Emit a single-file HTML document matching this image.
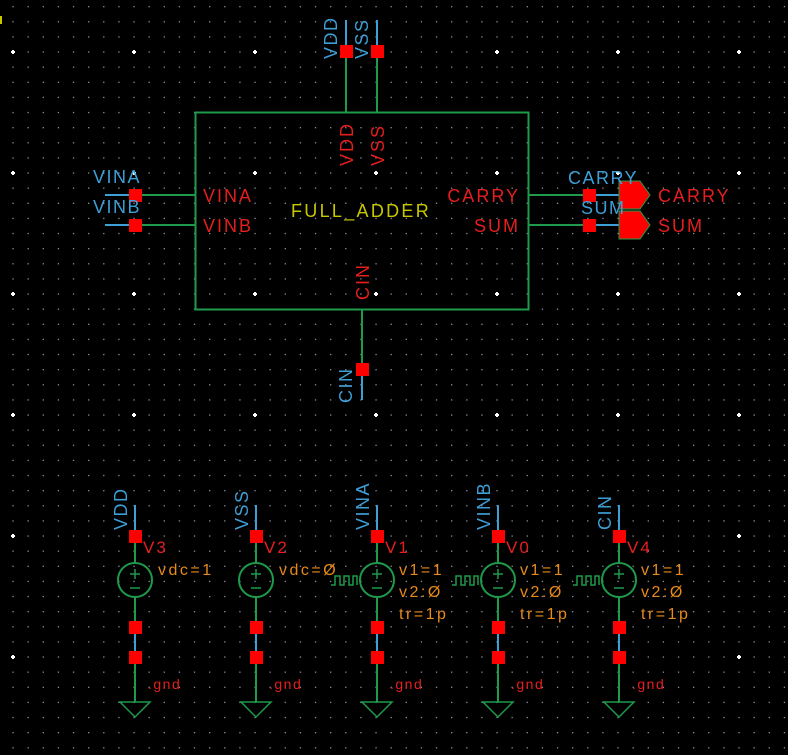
<!DOCTYPE html>
<html><head><meta charset="utf-8"><style>
html,body{margin:0;padding:0;background:#000;}
svg{display:block;}
text{font-family:"Liberation Sans",sans-serif;}
.b{fill:#3d9fd6;font-size:18px;letter-spacing:1.5px;}
.r{fill:#e61e1e;font-size:18px;letter-spacing:2px;}
.o{fill:#e88a1a;font-size:16px;letter-spacing:2.5px;}
.g{fill:#e61e1e;font-size:14px;letter-spacing:1.5px;}
</style></head><body>
<svg id="s" width="788" height="755" viewBox="0 0 788 755" xmlns="http://www.w3.org/2000/svg">
<rect width="788" height="755" fill="#000"/>
<g id="grid"></g>
<rect x="0" y="16" width="2" height="8" fill="#c8c800"/>
<g stroke="#1f9a4a" stroke-width="2" fill="none">
<rect x="195.5" y="112.5" width="333" height="197"/>
<line x1="346" y1="52" x2="346" y2="112"/>
<line x1="377" y1="52" x2="377" y2="112"/>
<line x1="135" y1="195" x2="195" y2="195"/>
<line x1="135" y1="225" x2="195" y2="225"/>
<line x1="528" y1="195" x2="589" y2="195"/>
<line x1="528" y1="225" x2="589" y2="225"/>
<line x1="362" y1="309" x2="362" y2="369"/>
</g>
<g stroke="#3d9fd6" stroke-width="2">
<line x1="346" y1="20" x2="346" y2="46"/>
<line x1="377" y1="20" x2="377" y2="46"/>
<line x1="105" y1="195" x2="130" y2="195"/>
<line x1="105" y1="225" x2="130" y2="225"/>
<line x1="594" y1="195" x2="620" y2="195"/>
<line x1="594" y1="225" x2="620" y2="225"/>
<line x1="362" y1="374" x2="362" y2="400"/>
</g>
<g fill="#ff0000">
<rect x="340" y="45" width="13" height="13"/>
<rect x="371" y="45" width="13" height="13"/>
<rect x="129" y="189" width="13" height="13"/>
<rect x="129" y="219" width="13" height="13"/>
<rect x="583" y="189" width="13" height="13"/>
<rect x="583" y="219" width="13" height="13"/>
<rect x="356" y="363" width="13" height="13"/>
</g>
<polygon points="619,181 640,181 650,195 640,209 619,209" fill="#ff0000" stroke="#1f9a4a" stroke-width="1"/>
<polygon points="619,211 640,211 650,225 640,239 619,239" fill="#ff0000" stroke="#1f9a4a" stroke-width="1"/>
<text class="b" transform="translate(337,59) rotate(-90)">VDD</text>
<text class="b" transform="translate(368,59) rotate(-90)">VSS</text>
<text class="r" transform="translate(353,166) rotate(-90)">VDD</text>
<text class="r" transform="translate(384,166) rotate(-90)">VSS</text>
<text class="r" transform="translate(369,300) rotate(-90)">CIN</text>
<text class="b" transform="translate(352,403) rotate(-90)">CIN</text>
<text class="b" x="93" y="183">VINA</text>
<text class="b" x="93" y="213">VINB</text>
<text class="r" x="203" y="202">VINA</text>
<text class="r" x="203" y="232">VINB</text>
<text x="291" y="217" style="fill:#c8c800;font-size:18px;letter-spacing:2.3px">FULL_ADDER</text>
<text class="r" x="520" y="202" text-anchor="end">CARRY</text>
<text class="r" x="520" y="232" text-anchor="end">SUM</text>
<text class="b" x="568" y="184">CARRY</text>
<text class="b" x="581" y="214">SUM</text>
<text class="r" x="658" y="202">CARRY</text>
<text class="r" x="658" y="232">SUM</text>
<g id="srcs"></g>
</svg>
<script>
var ns="http://www.w3.org/2000/svg";
function el(t,a,p){var e=document.createElementNS(ns,t);for(var k in a)e.setAttribute(k,a[k]);(p||document.getElementById('srcs')).appendChild(e);return e;}
var g=document.getElementById('grid');
var sp=121/8;
for(var i=-1;i<60;i++){for(var j=-1;j<60;j++){var x=13+i*sp,y=52+(j-3)*sp;if(x<0||x>788||y<0||y>755)continue;
var big=(i%8==0)&&((j-3)%8==0);
if(big){el('rect',{x:x-2,y:y-1,width:4,height:2,fill:'#fff'},g);el('rect',{x:x-1,y:y-2,width:2,height:4,fill:'#fff'},g);}
else el('rect',{x:x-0.6,y:y-0.6,width:1.3,height:1.3,fill:'#8890a8'},g);}}
var xs=[135,256,377,498,619],nets=['VDD','VSS','VINA','VINB','CIN'],nm=['V3','V2','V1','V0','V4'];
for(var k=0;k<5;k++){var x=xs[k];
el('line',{x1:x,y1:505,x2:x,y2:531,stroke:'#3d9fd6','stroke-width':2});
el('line',{x1:x,y1:542,x2:x,y2:563,stroke:'#1f9a4a','stroke-width':2});
el('line',{x1:x,y1:597,x2:x,y2:622,stroke:'#1f9a4a','stroke-width':2});
el('line',{x1:x,y1:632,x2:x,y2:652,stroke:'#3d9fd6','stroke-width':2});
el('line',{x1:x,y1:662,x2:x,y2:702,stroke:'#1f9a4a','stroke-width':2});
el('circle',{cx:x,cy:580,r:17,fill:'none',stroke:'#1f9a4a','stroke-width':2});
el('line',{x1:x-5,y1:574,x2:x+5,y2:574,stroke:'#1f9a4a','stroke-width':1.5});
el('line',{x1:x,y1:569,x2:x,y2:579,stroke:'#1f9a4a','stroke-width':1.5});
el('line',{x1:x-5,y1:588,x2:x+5,y2:588,stroke:'#1f9a4a','stroke-width':1.5});
el('polygon',{points:(x-15)+',702 '+(x+15)+',702 '+x+',717',fill:'none',stroke:'#1f9a4a','stroke-width':1.5});
[530,621,651].forEach(function(y){el('rect',{x:x-6,y:y,width:13,height:13,fill:'#ff0000'});});
var t=el('text',{'class':'b',transform:'translate('+(x-8)+',530) rotate(-90)'});t.textContent=nets[k];
t=el('text',{'class':'r',x:x+8,y:553,style:'font-size:17px'});t.textContent=nm[k];
t=el('text',{'class':'g',x:x+13,y:689});t.textContent='.gnd';
if(k<2){t=el('text',{'class':'o',x:x+23,y:575});t.textContent=k==0?'vdc=1':'vdc=\u00d8';}
else{
var px=x-46;
el('polyline',{points:px+',585 '+(px+4)+',585 '+(px+4)+',576 '+(px+9)+',576 '+(px+9)+',585 '+(px+13)+',585 '+(px+13)+',576 '+(px+18)+',576 '+(px+18)+',585 '+(px+22)+',585 '+(px+22)+',576 '+(px+26)+',576 '+(px+26)+',585',fill:'none',stroke:'#1f9a4a','stroke-width':1.5});
t=el('text',{'class':'o',x:x+22,y:575});t.textContent='v1=1';
t=el('text',{'class':'o',x:x+22,y:597});t.textContent='v2:\u00d8';
t=el('text',{'class':'o',x:x+22,y:619});t.textContent='tr=1p';}
}
</script>
</body></html>
